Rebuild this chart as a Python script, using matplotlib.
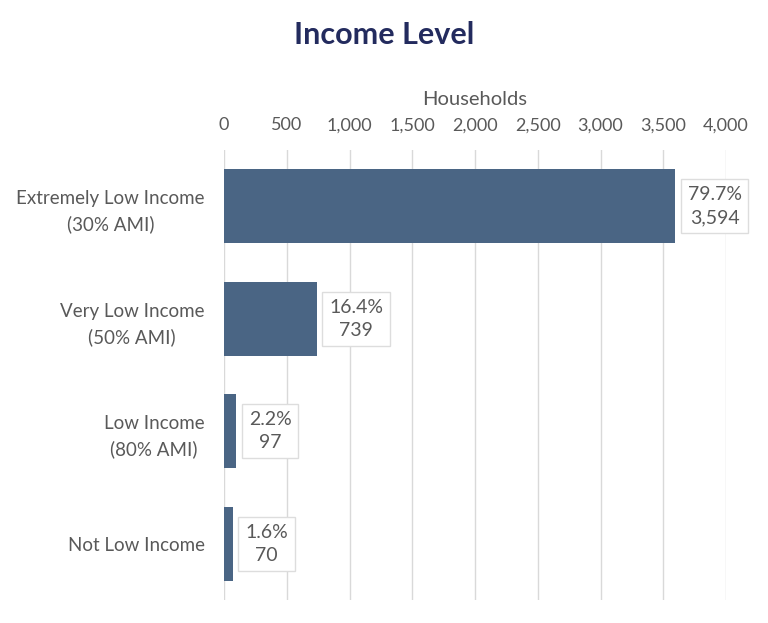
import numpy as np
import matplotlib
matplotlib.use("Agg")
from matplotlib import pyplot as plt

# - - - - - - - DATA - - - - - - -
categories = ["Extremely Low Income\n(30% AMI)", "Very Low Income\n(50% AMI)",
              "Low Income\n(80% AMI)", "Not Low Income"]
households = [3594, 739, 97, 70]
shares = [79.7, 16.4, 2.2, 1.6]
x_ticks = [0, 500, 1000, 1500, 2000, 2500, 3000, 3500, 4000]

# - - - - - - - STYLE - - - - - - -
plt.rcParams['font.family'] = ['Lato', 'DejaVu Sans']
BAR = "#4a6584"
TXT = "#595959"
GRID = "#d9d9d9"


def main():
    fig = plt.figure(figsize=(7.68, 6.23), dpi=100)
    ax = fig.add_axes([224 / 768, 1 - 600 / 623, 502 / 768, 450 / 623])

    y = np.arange(len(categories))
    ax.barh(y, households, height=0.66, color=BAR, zorder=2)

    ax.set_xlim(0, 4000)
    ax.set_ylim(len(categories) - 0.5, -0.5)
    ax.set_xticks(x_ticks)
    ax.set_xticklabels([f"{v:,}" for v in x_ticks])
    ax.xaxis.tick_top()
    ax.xaxis.set_label_position("top")
    ax.set_xlabel("Households", fontsize=14.5, color=TXT, labelpad=9)
    ax.set_yticks(y)
    ax.set_yticklabels(categories, fontsize=13.5, color=TXT, linespacing=1.55)
    ax.tick_params(axis="x", length=0, labelsize=13, labelcolor=TXT, pad=12)
    ax.tick_params(axis="y", length=0, pad=14)
    for lab in ax.get_yticklabels():
        lab.set_horizontalalignment("right")
        lab.set_multialignment("center")

    ax.grid(axis="x", color=GRID, linewidth=1, zorder=0)
    for s in ax.spines.values():
        s.set_visible(False)

    for i, (v, p) in enumerate(zip(households, shares)):
        ax.annotate(f"{p:.1f}%\n{v:,}", xy=(v, i), xytext=(9, 0),
                    textcoords="offset points", ha="left", va="center",
                    multialignment="center",
                    fontsize=14, color=TXT, linespacing=1.45, zorder=3,
                    bbox=dict(boxstyle="square,pad=0.35", fc="white",
                              ec="#dddddd", lw=1))

    fig.text(384 / 768, 1 - 35 / 623, "Income Level", ha="center", va="center",
             fontsize=22, fontweight="bold", color="#232b5e")

    fig.savefig("out.png", dpi=100)


# - - - - - - - RUN - - - - - - -
if __name__ == "__main__":
    main()
